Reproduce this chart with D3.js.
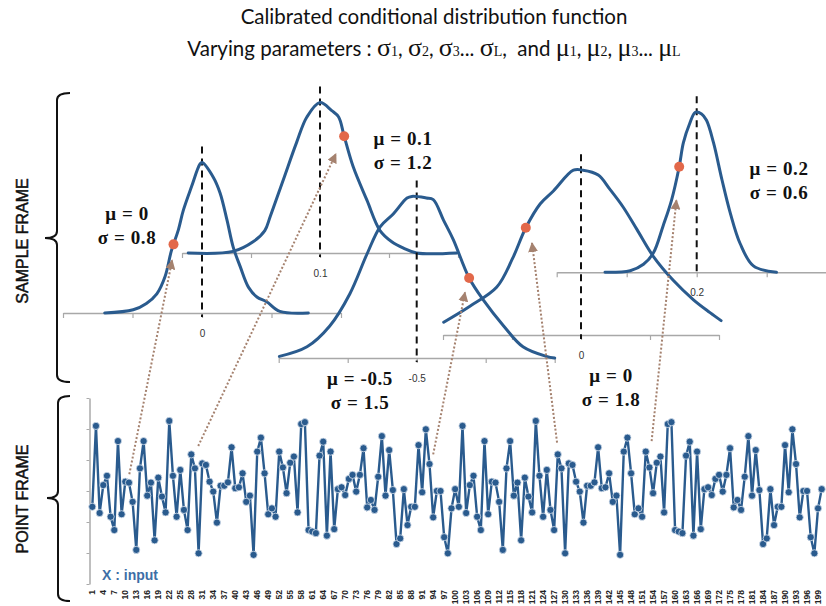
<!DOCTYPE html>
<html>
<head>
<meta charset="utf-8">
<script src="https://cdn.jsdelivr.net/npm/d3@7/dist/d3.min.js"></script>
<style>
  body { margin: 0; background: #fff; }
  svg { display: block; }
</style>
</head>
<body>
<div id="chart"></div>
<script>
var width = 826, height = 606;

// ---- point frame : the X input series (sample index 1..200)
var inputValues = [
  -0.51, 2.10, -0.71, 0.19, 0.49, -0.83, -1.26, 1.61, -0.75, 0.30,
  0.27, -0.35, -1.90, 0.73, 1.61, -0.15, 0.27, -1.59, 0.43, -0.18,
  -0.69, 2.26, 0.49, -0.83, 0.68, -0.61, -1.26, 1.18, 0.73, -2.01,
  0.89, 0.84, 0.30, -0.02, -1.02, 0.17, 0.17, 0.28, 1.41, 0.09,
  0.12, 0.57, -0.35, -0.15, -2.06, 1.27, 1.72, 0.57, -0.75, -0.56,
  -0.83, 1.27, 0.76, -0.07, 0.91, 1.11, -0.69, 2.16, 2.22, -1.26,
  -1.31, -1.36, 1.14, 1.59, -1.44, 1.27, -1.23, 0.06, 0.12, -0.13,
  0.39, 0.52, -0.02, 0.52, 1.38, -0.53, -0.29, -0.61, 0.46, 1.77,
  -0.15, 1.32, 0.03, -1.71, -1.53, 0.06, -1.10, -0.51, -0.51, 1.48,
  -0.04, 1.99, 0.87, -0.85, 0.00, 0.00, -1.49, -2.01, -0.56, 0.06,
  -0.51, 2.10, -0.71, 0.19, 0.49, -0.83, -1.26, 1.61, -0.75, 0.30,
  0.27, -0.35, -1.90, 0.73, 1.61, -0.15, 0.27, -1.59, 0.43, -0.18,
  -0.69, 2.26, 0.49, -0.83, 0.68, -0.61, -1.26, 1.18, 0.73, -2.01,
  0.89, 0.84, 0.30, -0.02, -1.02, 0.17, 0.17, 0.28, 1.41, 0.09,
  0.12, 0.57, -0.35, -0.15, -2.06, 1.27, 1.72, 0.57, -0.75, -0.56,
  -0.83, 1.27, 0.76, -0.07, 0.91, 1.11, -0.69, 2.16, 2.22, -1.26,
  -1.31, -1.36, 1.14, 1.59, -1.44, 1.27, -1.23, 0.06, 0.12, -0.13,
  0.39, 0.52, -0.02, 0.52, 1.38, -0.53, -0.29, -0.61, 0.46, 1.77,
  -0.15, 1.32, 0.03, -1.71, -1.53, 0.06, -1.10, -0.51, -0.51, 1.48,
  -0.04, 1.99, 0.87, -0.85, 0.00, 0.00, -1.49, -2.01, -0.56, 0.06
];
var inputIndex = d3.range(1, inputValues.length + 1);
var xTickLabels = d3.range(1, 201, 3);   // 1, 4, 7 ... 199
var yTicks = [-3, -2, -1, 0, 1, 2, 3];

// ---- sample frame : calibrated distributions
var mus    = [0, 0.1, -0.5, 0, 0.2];
var sigmas = [0.8, 1.2, 1.5, 1.8, 0.6];
// curve points [u, h] : u in axis-tick units from the mean, h = relative density
var curves = [
  [[-1.40,0],[-0.99,0.02],[-0.80,0.06],[-0.65,0.12],[-0.53,0.23],[-0.44,0.39],[-0.34,0.52],
   [-0.27,0.64],[-0.15,0.79],[-0.03,0.93],[0,0.94],[0.16,0.85],[0.26,0.75],[0.36,0.58],
   [0.45,0.41],[0.55,0.29],[0.67,0.16],[0.79,0.10],[0.93,0.07],[1.12,0.01],[1.53,0]],
  [[-1.91,0],[-1.26,0.01],[-0.97,0.07],[-0.80,0.14],[-0.72,0.23],[-0.53,0.46],[-0.34,0.69],
   [-0.19,0.85],[0,0.94],[0.17,0.89],[0.27,0.85],[0.35,0.73],[0.48,0.54],[0.68,0.33],
   [0.87,0.14],[1.04,0.07],[1.21,0.03],[1.40,0],[1.98,0]],
  [[-1.99,0.01],[-1.59,0.07],[-1.26,0.20],[-0.97,0.40],[-0.72,0.65],[-0.53,0.82],[-0.34,0.90],
   [-0.14,1.00],[-0.07,1.01],[0.14,1.00],[0.24,0.99],[0.39,0.86],[0.53,0.74],[0.76,0.50],
   [0.97,0.36],[1.26,0.20],[1.54,0.07],[1.88,0.01],[2.00,0]],
  [[-1.99,0.08],[-1.61,0.18],[-1.22,0.30],[-0.99,0.48],[-0.80,0.67],[-0.59,0.82],[-0.40,0.90],
   [-0.11,1.03],[0.03,1.03],[0.25,1.00],[0.42,0.91],[0.61,0.80],[0.81,0.66],[1.05,0.49],
   [1.34,0.34],[1.63,0.22],[1.87,0.14],[2.03,0.09]],
  [[-1.31,0],[-0.95,0.01],[-0.76,0.05],[-0.62,0.12],[-0.48,0.29],[-0.36,0.45],[-0.25,0.66],
   [-0.19,0.81],[-0.10,0.93],[-0.02,1.00],[0.07,0.99],[0.14,0.95],[0.24,0.81],[0.36,0.58],
   [0.48,0.37],[0.62,0.18],[0.81,0.04],[1.14,0]]
];
// sampled point on each curve (u) and the arrow from the input series to it
var dotAt     = [-0.41, 0.35, 0.76, -0.80, -0.25];
var arrowFrom = [[11.1, 0.54], [29.9, 1.45], [94.0, 1.18], [127.8, 1.56], [153.6, 1.61]];
var arrowTo   = [[-0.43, 0.33], [0.23, 0.62], [0.70, 0.41], [-0.71, 0.575], [-0.29, 0.45]];

// layout of the five little plots
var panels = [
  {cx: 202,   step: 69.5, axisY: 313,   lx: 127, ly: 220},
  {cx: 320,   step: 69,   axisY: 253,   lx: 403, ly: 145},
  {cx: 416.7, step: 69,   axisY: 358,   lx: 360, ly: 385},
  {cx: 581,   step: 69,   axisY: 335,   lx: 611, ly: 382},
  {cx: 696.7, step: 70,   axisY: 272.3, lx: 779, ly: 175}
];

var blue = "#2a5b8e", orange = "#e2684a", brown = "#a5826f";

var svg = d3.select("#chart").append("svg")
    .attr("width", width)
    .attr("height", height);

svg.append("defs").append("marker")
    .attr("id", "ah")
    .attr("viewBox", "0 0 10 10")
    .attr("refX", 9).attr("refY", 5)
    .attr("markerWidth", 5).attr("markerHeight", 5)
    .attr("orient", "auto")
  .append("path")
    .attr("d", "M0,0 L10,5 L0,10 Z")
    .attr("fill", brown);

// title
svg.append("text")
    .attr("x", 434).attr("y", 24)
    .attr("text-anchor", "middle")
    .attr("font-family", "Lato, sans-serif")
    .attr("font-size", 20.5)
    .attr("fill", "#111")
    .text("Calibrated conditional distribution function");

var sub = svg.append("text")
    .attr("x", 434).attr("y", 56)
    .attr("text-anchor", "middle")
    .attr("font-family", "Lato, sans-serif")
    .attr("font-size", 20.5)
    .attr("fill", "#111");
var subParts = [["Varying parameters : ", 0], ["σ", 1], ["1", 2], [", ", 0], ["σ", 1], ["2", 2], [", ", 0],
  ["σ", 1], ["3", 2], ["... ", 0], ["σ", 1], ["L", 2], [",  and ", 0], ["μ", 1], ["1", 2], [", ", 0],
  ["μ", 1], ["2", 2], [", ", 0], ["μ", 1], ["3", 2], ["... ", 0], ["μ", 1], ["L", 2]];
subParts.forEach(function(p) {
  var t = sub.append("tspan").text(p[0]).attr("xml:space", "preserve");
  if (p[1] == 1) t.attr("font-family", "'Liberation Serif', serif").attr("font-size", 26);
  if (p[1] == 2) t.attr("font-family", "'Liberation Serif', serif").attr("font-size", 14);
});

// braces + side labels
function brace(x, y0, y1, ym, hook, nib) {
  var r = 7;
  return "M" + (x + hook) + "," + y0 + " Q" + x + "," + y0 + " " + x + "," + (y0 + r) +
    " L" + x + "," + (ym - r) + " Q" + x + "," + ym + " " + (x - nib) + "," + ym +
    " Q" + x + "," + ym + " " + x + "," + (ym + r) +
    " L" + x + "," + (y1 - r) + " Q" + x + "," + y1 + " " + (x + hook) + "," + y1;
}
svg.append("path").attr("d", brace(57, 93, 382, 238, 13, 12))
    .attr("fill", "none").attr("stroke", "#111").attr("stroke-width", 2);
svg.append("path").attr("d", brace(58, 396, 601, 498, 12, 11))
    .attr("fill", "none").attr("stroke", "#111").attr("stroke-width", 2);

[["SAMPLE FRAME", 241], ["POINT FRAME", 499]].forEach(function(s) {
  svg.append("text")
      .attr("transform", "translate(28," + s[1] + ") rotate(-90)")
      .attr("text-anchor", "middle")
      .attr("font-family", "'Liberation Sans', Arial, sans-serif")
      .attr("font-size", 16)
      .attr("fill", "#111")
      .attr("stroke", "#111")
      .attr("stroke-width", 0.5)
      .text(s[0]);
});

// ---- point frame
var xP = d3.scaleLinear().domain([1, 200]).range([92.3, 821.7]);
var yP = d3.scaleLinear().domain([-3, 3]).range([584, 398]);

var yAxisG = svg.append("g")
    .attr("transform", "translate(89.5,0)")
    .call(d3.axisLeft(yP).tickValues(yTicks).tickSize(3).tickSizeOuter(0).tickFormat(""));
yAxisG.select(".domain").attr("stroke", "#aaa").attr("stroke-width", 1.5);
yAxisG.selectAll(".tick line").attr("stroke", "#aaa");

svg.append("g").selectAll("text")
    .data(xTickLabels)
    .enter()
    .append("text")
    .attr("transform", function(d) { return "translate(" + xP(d) + ",590) rotate(-90)"; })
    .attr("text-anchor", "end")
    .attr("dy", "0.35em")
    .attr("font-family", "'Liberation Sans', Arial, sans-serif")
    .attr("font-size", 8.5)
    .attr("font-weight", "bold")
    .attr("fill", "#222")
    .text(function(d) { return d; });

var line = d3.line()
    .x(function(d, i) { return xP(inputIndex[i]); })
    .y(function(d) { return yP(d); });

svg.append("path")
    .datum(inputValues)
    .attr("d", line)
    .attr("fill", "none")
    .attr("stroke", blue)
    .attr("stroke-width", 2.4);

svg.append("g").selectAll("circle")
    .data(inputValues)
    .enter()
    .append("circle")
    .attr("cx", function(d, i) { return xP(inputIndex[i]); })
    .attr("cy", function(d) { return yP(d); })
    .attr("r", 3.6)
    .attr("fill", blue)
    .attr("stroke", "#d6e0ec")
    .attr("stroke-width", 0.8);

svg.append("text")
    .attr("x", 102).attr("y", 580)
    .attr("font-family", "'Liberation Sans', Arial, sans-serif")
    .attr("font-size", 14)
    .attr("font-weight", "bold")
    .attr("fill", "#3d6ea6")
    .text("X : input");

// ---- sample frame
function hAt(pts, u) {
  for (var k = 1; k < pts.length; k++) {
    if (u <= pts[k][0]) {
      var a = pts[k - 1], b = pts[k];
      return a[1] + (b[1] - a[1]) * (u - a[0]) / (b[0] - a[0]);
    }
  }
  return pts[pts.length - 1][1];
}

var scales = panels.map(function(p) {
  return {
    x: d3.scaleLinear().domain([-2, 2]).range([p.cx - 2 * p.step, p.cx + 2 * p.step]),
    y: d3.scaleLinear().domain([0, 1]).range([p.axisY, p.axisY - 160])
  };
});

// axes first so the curves sit over them
panels.forEach(function(p, i) {
  var g = svg.append("g")
      .attr("transform", "translate(0," + p.axisY + ")")
      .call(d3.axisBottom(scales[i].x)
        .tickValues([-2, -1, 0, 1, 2])
        .tickSize(5).tickSizeOuter(0).tickPadding(12)
        .tickFormat(function(d) { return d === 0 ? String(mus[i]) : ""; }));
  g.select(".domain").attr("stroke", "#a8a8a8").attr("stroke-width", 1.5);
  g.selectAll(".tick line").attr("stroke", "#a8a8a8").attr("stroke-width", 1.2);
  g.selectAll(".tick text").attr("font-family", "'Liberation Sans', Arial, sans-serif")
      .attr("font-size", 10).attr("fill", "#333");
});

var curveLine = d3.line().curve(d3.curveCatmullRom.alpha(0.5));

panels.forEach(function(p, i) {
  var sx = scales[i].x, sy = scales[i].y;
  var top = d3.max(curves[i], function(d) { return d[1]; }) + 0.1;

  svg.append("line")
      .attr("x1", sx(0)).attr("x2", sx(0))
      .attr("y1", sy(top)).attr("y2", p.axisY + 4)
      .attr("stroke", "#111")
      .attr("stroke-width", 2)
      .attr("stroke-dasharray", "7,5");

  svg.append("path")
      .attr("d", curveLine.x(function(d) { return sx(d[0]); }).y(function(d) { return sy(d[1]); })(curves[i]))
      .attr("fill", "none")
      .attr("stroke", blue)
      .attr("stroke-width", 3)
      .attr("stroke-linecap", "round");
});

// arrows from the input series up to the sampled points
arrowFrom.forEach(function(a, i) {
  var sx = scales[i].x, sy = scales[i].y;
  svg.append("line")
      .attr("x1", xP(a[0])).attr("y1", yP(a[1]))
      .attr("x2", sx(arrowTo[i][0])).attr("y2", sy(arrowTo[i][1]))
      .attr("stroke", brown)
      .attr("stroke-width", 2)
      .attr("stroke-dasharray", "2,2")
      .attr("marker-end", "url(#ah)");
});

panels.forEach(function(p, i) {
  var sx = scales[i].x, sy = scales[i].y;
  svg.append("circle")
      .attr("cx", sx(dotAt[i]))
      .attr("cy", sy(hAt(curves[i], dotAt[i])))
      .attr("r", 5)
      .attr("fill", orange);

  var lab = svg.append("g")
      .attr("font-family", "'Liberation Serif', 'Times New Roman', serif")
      .attr("font-size", 19)
      .attr("font-weight", "bold")
      .attr("letter-spacing", 0.6)
      .attr("text-anchor", "middle")
      .attr("fill", "#111");
  lab.append("text").attr("x", p.lx).attr("y", p.ly).text("μ = " + mus[i]);
  lab.append("text").attr("x", p.lx).attr("y", p.ly + 24).text("σ = " + sigmas[i]);
});
</script>
</body>
</html>
